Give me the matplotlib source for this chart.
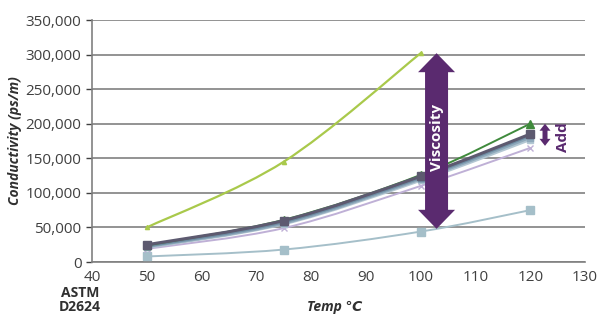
import numpy as np
import matplotlib
matplotlib.use("Agg")
import matplotlib.pyplot as plt
from matplotlib.path import Path
from matplotlib.patches import PathPatch, Polygon

# ---- data ----
temps_full = [50, 75, 100, 120]
temps_green = [50, 75, 100]
yellow_vals = [50000, 145000, 302000]
dkgreen_vals = [24000, 61000, 126000, 200000]
dkgray_vals = [25000, 60000, 124000, 185000]
blue1_vals = [23000, 58000, 122000, 183000]
blue2_vals = [22000, 56000, 120000, 180000]
blue3_vals = [21000, 55000, 118000, 177000]
lav_vals = [19000, 49000, 110000, 165000]
ltblue_vals = [8000, 18000, 44000, 75000]

xticks = [40, 50, 60, 70, 80, 90, 100, 110, 120, 130]
yticks = [0, 50000, 100000, 150000, 200000, 250000, 300000, 350000]

FONT = "Open Sans"
FAMS = ["Open Sans", "DejaVu Sans"]
TXT = "#404040"

fig = plt.figure(figsize=(6.03, 3.23), dpi=100)
ax = fig.add_axes([92/603, 1-262/323, (585-92)/603, (262-20)/323])
ax.set_xlim(40, 130)
ax.set_ylim(0, 350000)


def smooth_path(xs, ys):
    pts = np.column_stack([xs, ys]).astype(float)
    n = len(pts)
    verts = [pts[0]]
    codes = [Path.MOVETO]
    for i in range(n - 1):
        p_prev = pts[i - 1] if i > 0 else pts[i]
        p0 = pts[i]
        p1 = pts[i + 1]
        p_next = pts[i + 2] if i + 2 < n else pts[i + 1]
        c1 = p0 + (p1 - p_prev) / 6.0
        c2 = p1 - (p_next - p0) / 6.0
        verts += [c1, c2, p1]
        codes += [Path.CURVE4] * 3
    return Path(verts, codes)


def draw(xs, ys, color, lw, marker, ms, z):
    ax.add_patch(PathPatch(smooth_path(xs, ys), fill=False, edgecolor=color,
                           lw=lw, zorder=z, capstyle="round"))
    ax.plot(xs, ys, linestyle="none", marker=marker, ms=ms, color=color,
            mec=color, zorder=z + 0.1)


draw(temps_full, ltblue_vals, "#a5bfc9", 1.4, "s", 6, 3)
draw(temps_full, lav_vals, "#bfb0d6", 1.4, "x", 5, 3)
draw(temps_full, blue3_vals, "#b3c7d3", 2.0, "s", 5, 3)
draw(temps_full, blue2_vals, "#8fa9bb", 2.0, "s", 5, 3)
draw(temps_full, blue1_vals, "#6f8ea4", 2.0, "s", 5, 3)
draw(temps_full, dkgray_vals, "#5d5a70", 2.2, "s", 6, 4)
draw(temps_full, dkgreen_vals, "#3f8a3c", 1.4, "^", 6, 3.5)
draw(temps_green, yellow_vals, "#a9c94b", 1.6, "^", 3, 3)

# axes styling
ax.set_xticks(xticks)
ax.set_yticks(yticks)
ax.set_yticklabels([f"{v:,}" for v in yticks])
ax.tick_params(axis="both", labelsize=11, colors=TXT, length=4, width=1)
ax.tick_params(axis="x", length=0, pad=6)
for lab in ax.get_xticklabels() + ax.get_yticklabels():
    lab.set_fontfamily(FONT)
ax.grid(axis="y", color="#808080", lw=1.2, zorder=1)
ax.set_axisbelow(True)
for s in ["top", "right"]:
    ax.spines[s].set_visible(False)
ax.spines["left"].set_color("#808080")
ax.spines["bottom"].set_color("#808080")
ax.spines["left"].set_linewidth(1.2)
ax.spines["bottom"].set_linewidth(1.2)

ax.set_ylabel("Conductivity (ps/m)", fontsize=10, fontweight="bold", style="italic",
              color="#303030", family=FAMS, labelpad=3)
fig.text(335/603, 1-307/323, "Temp \u2103", fontsize=10, fontweight="bold", style="italic",
         color="#303030", family=FAMS, ha="center", va="center")
fig.text(80/603, 1-300/323, "ASTM\nD2624", fontsize=10, fontweight="bold",
         color="#303030", family=FAMS, ha="center", va="center", linespacing=1.0)


def double_arrow(xc, y0, y1, shaft, headw, headl, color):
    fig.canvas.draw()
    (px, py0) = ax.transData.transform((xc, y0))
    (_, py1) = ax.transData.transform((xc, y1))
    lo, hi = min(py0, py1), max(py0, py1)
    v = [
        (px, hi), (px + headw/2, hi - headl), (px + shaft/2, hi - headl),
        (px + shaft/2, lo + headl), (px + headw/2, lo + headl), (px, lo),
        (px - headw/2, lo + headl), (px - shaft/2, lo + headl),
        (px - shaft/2, hi - headl), (px - headw/2, hi - headl),
    ]
    v = fig.transFigure.inverted().transform(v)
    ax.add_artist(Polygon(v, closed=True, facecolor=color, edgecolor="none",
                          transform=fig.transFigure, zorder=10, clip_on=False))


PURPLE = "#5a2a6f"
double_arrow(102.9, 48000, 302000, 23, 37, 19, PURPLE)
double_arrow(122.7, 168000, 200000, 5, 11, 7, PURPLE)
ax.text(102.9, 180000, "Viscosity", rotation=90, color="white", fontsize=11,
        fontweight="bold", family=FAMS, ha="center", va="center", zorder=11)
ax.text(125.9, 180000, "Add", rotation=90, color=PURPLE, fontsize=11,
        fontweight="bold", family=FAMS, ha="center", va="center", zorder=11)

fig.savefig("out.png", dpi=100)
